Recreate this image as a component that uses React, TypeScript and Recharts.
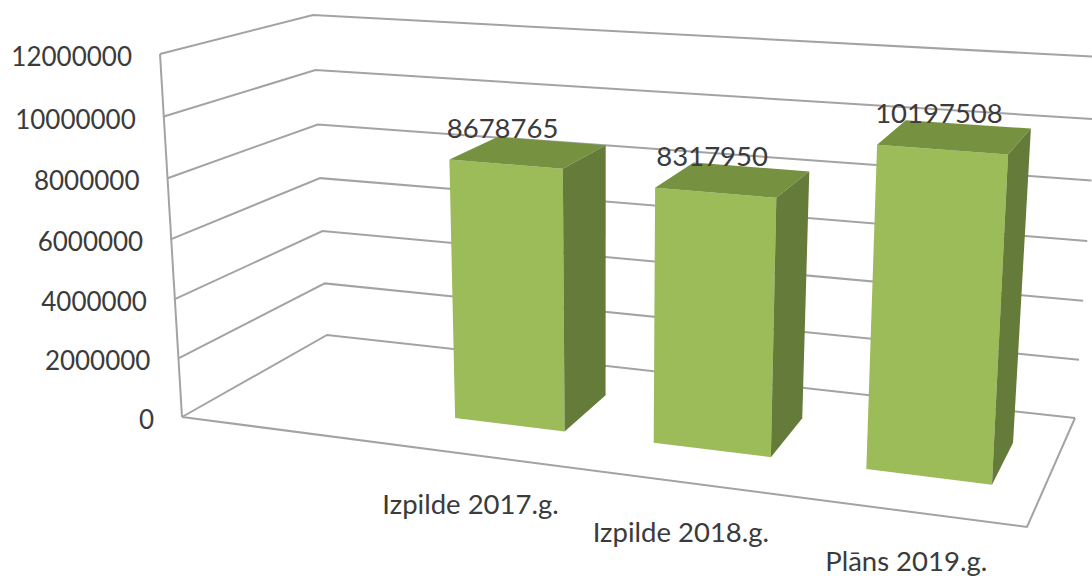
import React from 'react';
import { BarChart, Bar, XAxis, YAxis, CartesianGrid, LabelList } from 'recharts';

const categories = ['', 'Izpilde 2017.g.', 'Izpilde 2018.g.', 'Plāns 2019.g.'];
const values = [null, 8678765, 8317950, 10197508];
const valueTicks = [0, 2000000, 4000000, 6000000, 8000000, 10000000, 12000000];

const data = categories.map((name, i) => ({ name, value: values[i] }));

const WIDTH = 1092;
const HEIGHT = 576;
// flat plot area that recharts lays out, everything gets projected from it
const PLOT = { left: 60, top: 60, width: 972, height: 456 };
const BOTTOM = PLOT.top + PLOT.height;

// corners of the 3D box on screen: [floor/top][front/back][left/right]
const BOX = {
  floorFrontLeft: [182, 417],
  floorFrontRight: [1027, 527],
  floorBackLeft: [327, 335],
  floorBackRight: [1075, 418],
  topFrontLeft: [160, 54],
  topFrontRight: [1047, 117],
  topBackLeft: [313, 15],
  topBackRight: [1100, 57],
};
const PERSPECTIVE = 1.145;
const PERSPECTIVE_V = 1.04;
const BAR_FRONT = 0.33;
const BAR_BACK = 0.72;

const GRID = '#a3a3a3';
const TEXT = '#3b3b3b';
const FONT = 'Lato';

const mix = (a: number[], b: number[], t: number) => [a[0] + (b[0] - a[0]) * t, a[1] + (b[1] - a[1]) * t];

// flat chart x/y plus depth (0 front, 1 back) -> screen point
function project(px: number, py: number, depth: number) {
  const rawU = (px - PLOT.left) / PLOT.width;
  const u = rawU / (PERSPECTIVE + (1 - PERSPECTIVE) * rawU);
  const rawV = (BOTTOM - py) / PLOT.height;
  const v = rawV / (PERSPECTIVE_V + (1 - PERSPECTIVE_V) * rawV);
  const floorFront = mix(BOX.floorFrontLeft, BOX.floorFrontRight, u);
  const floorBack = mix(BOX.floorBackLeft, BOX.floorBackRight, u);
  const topFront = mix(BOX.topFrontLeft, BOX.topFrontRight, u);
  const topBack = mix(BOX.topBackLeft, BOX.topBackRight, u);
  return mix(mix(floorFront, floorBack, depth), mix(topFront, topBack, depth), v);
}

const pts = (list: number[][]) => list.map((p) => p.join(',')).join(' ');

function GridLine(props: any) {
  const { x1, x2, y1 } = props;
  const front = project(x1, y1, 0);
  const back = project(x1, y1, 1);
  const right = project(x2, y1, 1);
  const isFloor = Math.abs(y1 - BOTTOM) < 0.5;
  return (
    <g key={props.key} fill="none" stroke={GRID} strokeWidth={2}>
      <polyline points={pts([front, back, right])} />
      {isFloor && (
        <>
          <polyline points={pts([right, project(x2, y1, 0), front])} />
          <polyline points={pts([front, project(x1, PLOT.top, 0)])} />
        </>
      )}
    </g>
  );
}

function Bar3D(props: any) {
  const { x, y, width, height } = props;
  if (!height) return null;
  const r = x + width;
  const b = y + height;
  const a = project(x, y, BAR_FRONT);
  const c = project(r, y, BAR_FRONT);
  const d = project(r, b, BAR_FRONT);
  const e = project(x, b, BAR_FRONT);
  const f = project(x, y, BAR_BACK);
  const g = project(r, y, BAR_BACK);
  const h = project(r, b, BAR_BACK);
  return (
    <g>
      <polygon points={pts([a, c, d, e])} fill="#9cbc5a" />
      <polygon points={pts([a, f, g, c])} fill="#76913f" />
      <polygon points={pts([c, g, h, d])} fill="#647b39" />
    </g>
  );
}

function BarValue(props: any) {
  const { x, y, width, value } = props;
  if (value == null) return null;
  const p = project(x + width / 2, y, BAR_FRONT);
  return (
    <text x={p[0] - 3} y={p[1] - 37} textAnchor="middle" dominantBaseline="central" fontFamily={FONT} fontSize={27.5} fill={TEXT}>
      {value}
    </text>
  );
}

function ValueTick(props: any) {
  const { y, payload } = props;
  const p = project(PLOT.left, y, 0);
  return (
    <text x={p[0] - 28} y={p[1] + 2} textAnchor="end" dominantBaseline="central" fontFamily={FONT} fontSize={26} fill={TEXT}>
      {payload.value}
    </text>
  );
}

function CategoryTick(props: any) {
  const { x, payload } = props;
  const p = project(x, BOTTOM, 0);
  return (
    <text x={p[0] - 2} y={p[1] + 49} textAnchor="middle" dominantBaseline="central" fontFamily={FONT} fontSize={27.5} fill={TEXT}>
      {payload.value}
    </text>
  );
}

export default function App() {
  return (
    <div style={{ position: 'absolute', left: 0, top: 0, width: WIDTH, height: HEIGHT, background: '#fff' }}>
      <BarChart
        width={WIDTH}
        height={HEIGHT}
        data={data}
        barCategoryGap="22%"
        margin={{ top: PLOT.top, right: WIDTH - PLOT.left - PLOT.width, bottom: 30, left: 0 }}
      >
        <CartesianGrid vertical={false} horizontal={GridLine} />
        <XAxis dataKey="name" height={30} axisLine={false} tickLine={false} interval={0} tick={CategoryTick} />
        <YAxis width={PLOT.left} domain={[0, 12000000]} ticks={valueTicks} axisLine={false} tickLine={false} tick={ValueTick} />
        <Bar dataKey="value" isAnimationActive={false} shape={Bar3D}>
          <LabelList dataKey="value" content={BarValue} />
        </Bar>
      </BarChart>
    </div>
  );
}
